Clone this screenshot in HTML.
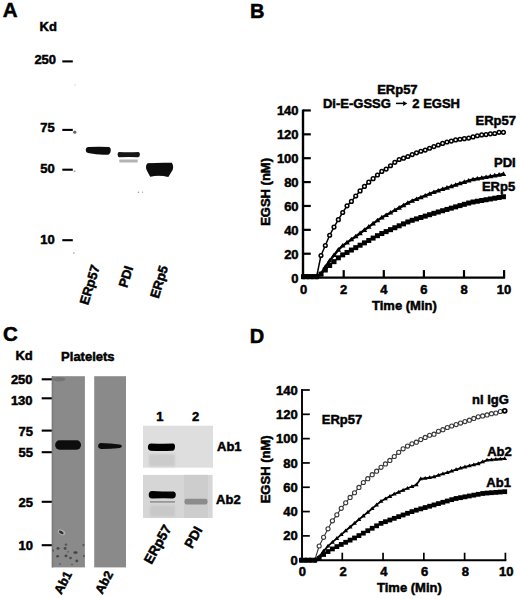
<!DOCTYPE html>
<html><head><meta charset="utf-8"><style>
html,body{margin:0;padding:0;background:#fff;width:520px;height:599px;overflow:hidden}
svg{display:block}
text{font-family:"Liberation Sans",sans-serif;font-weight:bold;fill:#000;stroke:#000;stroke-width:0.5px}
</style></head><body>
<svg width="520" height="599" viewBox="0 0 520 599">
<defs><filter id="blur1" x="-20%" y="-50%" width="140%" height="200%"><feGaussianBlur stdDeviation="0.45"/></filter><filter id="blur2" x="-20%" y="-50%" width="140%" height="200%"><feGaussianBlur stdDeviation="1.2"/></filter></defs>
<text x="2.75" y="17.0" font-size="20.5">A</text>
<text x="39.5" y="31.0" font-size="13">Kd</text>
<text x="34.4" y="64.3" font-size="13">250</text>
<text x="40.35" y="131.8" font-size="13">75</text>
<text x="40.25" y="172.7" font-size="13">50</text>
<text x="40.25" y="243.5" font-size="13">10</text>
<text x="88.05" y="305.4" font-size="13" transform="rotate(-73 88.05 305.4)">ERp57</text>
<text x="127.05" y="288.25" font-size="13" transform="rotate(-73 127.05 288.25)">PDI</text>
<text x="158.5" y="299.1" font-size="13" transform="rotate(-73 158.5 299.1)">ERp5</text>
<line x1="62.3" y1="61.4" x2="72.8" y2="61.4" stroke="#000" stroke-width="2.1"/>
<line x1="62.3" y1="129.9" x2="72.8" y2="129.9" stroke="#000" stroke-width="2.1"/>
<line x1="62.3" y1="169.7" x2="72.8" y2="169.7" stroke="#000" stroke-width="2.1"/>
<line x1="62.3" y1="240.2" x2="72.8" y2="240.2" stroke="#000" stroke-width="2.1"/>
<circle cx="74.8" cy="132.2" r="1.6" fill="#666"/>
<circle cx="74.6" cy="171.2" r="1.0" fill="#aaa"/>
<circle cx="73.8" cy="253" r="0.9" fill="#bbb"/>
<circle cx="138.5" cy="192.3" r="0.8" fill="#999"/>
<circle cx="142.5" cy="192.3" r="0.7" fill="#aaa"/>
<circle cx="75" cy="85" r="0.7" fill="#ccc"/>
<g filter="url(#blur1)">
<path d="M88,147.1 Q98,146.5 108.6,147 Q110.9,147.4 110.7,150.5 Q110.5,154.6 107.5,154.7 Q98,155.2 88,153 Q85.5,152.3 85.7,149.8 Q86,147.3 88,147.1 Z" fill="#0a0a0a"/>
<path d="M119,152 Q128.5,152.6 138.3,152 Q140,152.3 139.9,154.6 Q139.8,157.2 138,157.3 Q128.5,156.6 119.2,157.3 Q117.6,157.2 117.6,154.6 Q117.6,152.1 119,152 Z" fill="#141414"/>
<path d="M119.5,159.5 L137.5,159.5 Q138.3,161 137.5,162.6 L119.5,162.6 Q118.7,161 119.5,159.5 Z" fill="#b4b4b4"/>
<path d="M147.5,163.3 Q159,162.4 171.8,162.8 Q174,166.2 172.6,170 L168.3,176.9 Q159,174.6 150.2,176.7 L146.6,170 Q145,166 147.5,163.3 Z" fill="#080808"/>
</g>
<text x="250.0" y="17.75" font-size="20">B</text>
<line x1="303" y1="109.54000000000002" x2="303" y2="278.8" stroke="#000" stroke-width="2.4"/>
<line x1="301.8" y1="277.6" x2="505.1" y2="277.6" stroke="#000" stroke-width="2.4"/>
<line x1="303" y1="253.72000000000003" x2="310.8" y2="253.72000000000003" stroke="#000" stroke-width="2.2"/>
<line x1="303" y1="229.84000000000003" x2="310.8" y2="229.84000000000003" stroke="#000" stroke-width="2.2"/>
<line x1="303" y1="205.96000000000004" x2="310.8" y2="205.96000000000004" stroke="#000" stroke-width="2.2"/>
<line x1="303" y1="182.08000000000004" x2="310.8" y2="182.08000000000004" stroke="#000" stroke-width="2.2"/>
<line x1="303" y1="158.20000000000005" x2="310.8" y2="158.20000000000005" stroke="#000" stroke-width="2.2"/>
<line x1="303" y1="134.32000000000002" x2="310.8" y2="134.32000000000002" stroke="#000" stroke-width="2.2"/>
<line x1="303" y1="110.44000000000003" x2="310.8" y2="110.44000000000003" stroke="#000" stroke-width="2.2"/>
<line x1="343.70000000000005" y1="270.1" x2="343.70000000000005" y2="277.6" stroke="#000" stroke-width="2.2"/>
<line x1="383.8" y1="270.1" x2="383.8" y2="277.6" stroke="#000" stroke-width="2.2"/>
<line x1="423.90000000000003" y1="270.1" x2="423.90000000000003" y2="277.6" stroke="#000" stroke-width="2.2"/>
<line x1="464.0" y1="270.1" x2="464.0" y2="277.6" stroke="#000" stroke-width="2.2"/>
<line x1="504.1" y1="270.1" x2="504.1" y2="277.6" stroke="#000" stroke-width="2.2"/>
<text x="298.6" y="282.5" font-size="13" text-anchor="end" >0</text>
<text x="298.6" y="258.62" font-size="13" text-anchor="end" >20</text>
<text x="298.6" y="234.74000000000004" font-size="13" text-anchor="end" >40</text>
<text x="298.6" y="210.86000000000004" font-size="13" text-anchor="end" >60</text>
<text x="298.6" y="186.98000000000005" font-size="13" text-anchor="end" >80</text>
<text x="298.6" y="163.10000000000005" font-size="13" text-anchor="end" >100</text>
<text x="298.6" y="139.22000000000003" font-size="13" text-anchor="end" >120</text>
<text x="298.6" y="115.34000000000003" font-size="13" text-anchor="end" >140</text>
<text x="303.6" y="293.90000000000003" font-size="13" text-anchor="middle" >0</text>
<text x="343.70000000000005" y="293.90000000000003" font-size="13" text-anchor="middle" >2</text>
<text x="383.8" y="293.90000000000003" font-size="13" text-anchor="middle" >4</text>
<text x="423.90000000000003" y="293.90000000000003" font-size="13" text-anchor="middle" >6</text>
<text x="464.0" y="293.90000000000003" font-size="13" text-anchor="middle" >8</text>
<text x="504.1" y="293.90000000000003" font-size="13" text-anchor="middle" >10</text>
<path d="M303.60,276.64 L307.94,276.64 L312.29,276.64 L316.63,276.64 L320.98,255.52 L325.32,245.50 L329.67,235.24 L334.01,227.08 L338.35,219.70 L342.70,212.50 L347.04,205.84 L351.39,201.40 L355.73,196.00 L360.07,190.96 L364.42,186.40 L368.76,182.20 L373.11,178.72 L377.45,175.00 L381.80,171.40 L386.14,169.12 L390.48,165.76 L394.83,162.28 L399.17,159.52 L403.52,158.20 L407.86,156.52 L412.20,154.60 L416.55,152.80 L420.89,151.24 L425.24,150.04 L429.58,148.24 L433.93,146.56 L438.27,145.00 L442.61,143.44 L446.96,142.00 L451.30,141.10 L455.65,139.96 L459.99,139.24 L464.33,138.64 L468.68,138.04 L473.02,136.90 L477.37,135.76 L481.71,134.92 L486.06,134.56 L490.40,133.84 L494.74,133.48 L499.09,132.28 L503.43,132.28" fill="none" stroke="#000" stroke-width="1.5" stroke-linejoin="round"/>
<circle cx="303.60" cy="276.64" r="1.85" fill="#fff" stroke="#000" stroke-width="1.5"/>
<circle cx="307.94" cy="276.64" r="1.85" fill="#fff" stroke="#000" stroke-width="1.5"/>
<circle cx="312.29" cy="276.64" r="1.85" fill="#fff" stroke="#000" stroke-width="1.5"/>
<circle cx="316.63" cy="276.64" r="1.85" fill="#fff" stroke="#000" stroke-width="1.5"/>
<circle cx="320.98" cy="255.52" r="1.85" fill="#fff" stroke="#000" stroke-width="1.5"/>
<circle cx="325.32" cy="245.50" r="1.85" fill="#fff" stroke="#000" stroke-width="1.5"/>
<circle cx="329.67" cy="235.24" r="1.85" fill="#fff" stroke="#000" stroke-width="1.5"/>
<circle cx="334.01" cy="227.08" r="1.85" fill="#fff" stroke="#000" stroke-width="1.5"/>
<circle cx="338.35" cy="219.70" r="1.85" fill="#fff" stroke="#000" stroke-width="1.5"/>
<circle cx="342.70" cy="212.50" r="1.85" fill="#fff" stroke="#000" stroke-width="1.5"/>
<circle cx="347.04" cy="205.84" r="1.85" fill="#fff" stroke="#000" stroke-width="1.5"/>
<circle cx="351.39" cy="201.40" r="1.85" fill="#fff" stroke="#000" stroke-width="1.5"/>
<circle cx="355.73" cy="196.00" r="1.85" fill="#fff" stroke="#000" stroke-width="1.5"/>
<circle cx="360.07" cy="190.96" r="1.85" fill="#fff" stroke="#000" stroke-width="1.5"/>
<circle cx="364.42" cy="186.40" r="1.85" fill="#fff" stroke="#000" stroke-width="1.5"/>
<circle cx="368.76" cy="182.20" r="1.85" fill="#fff" stroke="#000" stroke-width="1.5"/>
<circle cx="373.11" cy="178.72" r="1.85" fill="#fff" stroke="#000" stroke-width="1.5"/>
<circle cx="377.45" cy="175.00" r="1.85" fill="#fff" stroke="#000" stroke-width="1.5"/>
<circle cx="381.80" cy="171.40" r="1.85" fill="#fff" stroke="#000" stroke-width="1.5"/>
<circle cx="386.14" cy="169.12" r="1.85" fill="#fff" stroke="#000" stroke-width="1.5"/>
<circle cx="390.48" cy="165.76" r="1.85" fill="#fff" stroke="#000" stroke-width="1.5"/>
<circle cx="394.83" cy="162.28" r="1.85" fill="#fff" stroke="#000" stroke-width="1.5"/>
<circle cx="399.17" cy="159.52" r="1.85" fill="#fff" stroke="#000" stroke-width="1.5"/>
<circle cx="403.52" cy="158.20" r="1.85" fill="#fff" stroke="#000" stroke-width="1.5"/>
<circle cx="407.86" cy="156.52" r="1.85" fill="#fff" stroke="#000" stroke-width="1.5"/>
<circle cx="412.20" cy="154.60" r="1.85" fill="#fff" stroke="#000" stroke-width="1.5"/>
<circle cx="416.55" cy="152.80" r="1.85" fill="#fff" stroke="#000" stroke-width="1.5"/>
<circle cx="420.89" cy="151.24" r="1.85" fill="#fff" stroke="#000" stroke-width="1.5"/>
<circle cx="425.24" cy="150.04" r="1.85" fill="#fff" stroke="#000" stroke-width="1.5"/>
<circle cx="429.58" cy="148.24" r="1.85" fill="#fff" stroke="#000" stroke-width="1.5"/>
<circle cx="433.93" cy="146.56" r="1.85" fill="#fff" stroke="#000" stroke-width="1.5"/>
<circle cx="438.27" cy="145.00" r="1.85" fill="#fff" stroke="#000" stroke-width="1.5"/>
<circle cx="442.61" cy="143.44" r="1.85" fill="#fff" stroke="#000" stroke-width="1.5"/>
<circle cx="446.96" cy="142.00" r="1.85" fill="#fff" stroke="#000" stroke-width="1.5"/>
<circle cx="451.30" cy="141.10" r="1.85" fill="#fff" stroke="#000" stroke-width="1.5"/>
<circle cx="455.65" cy="139.96" r="1.85" fill="#fff" stroke="#000" stroke-width="1.5"/>
<circle cx="459.99" cy="139.24" r="1.85" fill="#fff" stroke="#000" stroke-width="1.5"/>
<circle cx="464.33" cy="138.64" r="1.85" fill="#fff" stroke="#000" stroke-width="1.5"/>
<circle cx="468.68" cy="138.04" r="1.85" fill="#fff" stroke="#000" stroke-width="1.5"/>
<circle cx="473.02" cy="136.90" r="1.85" fill="#fff" stroke="#000" stroke-width="1.5"/>
<circle cx="477.37" cy="135.76" r="1.85" fill="#fff" stroke="#000" stroke-width="1.5"/>
<circle cx="481.71" cy="134.92" r="1.85" fill="#fff" stroke="#000" stroke-width="1.5"/>
<circle cx="486.06" cy="134.56" r="1.85" fill="#fff" stroke="#000" stroke-width="1.5"/>
<circle cx="490.40" cy="133.84" r="1.85" fill="#fff" stroke="#000" stroke-width="1.5"/>
<circle cx="494.74" cy="133.48" r="1.85" fill="#fff" stroke="#000" stroke-width="1.5"/>
<circle cx="499.09" cy="132.28" r="1.85" fill="#fff" stroke="#000" stroke-width="1.5"/>
<circle cx="503.43" cy="132.28" r="1.85" fill="#fff" stroke="#000" stroke-width="1.5"/>
<path d="M303.60,276.64 L307.94,276.64 L312.29,276.64 L316.63,276.64 L320.98,273.70 L325.32,266.91 L329.67,260.77 L334.01,255.28 L338.35,249.80 L342.70,245.74 L347.04,242.63 L351.39,239.52 L355.73,236.41 L360.07,233.31 L364.42,230.08 L368.76,226.85 L373.11,223.62 L377.45,220.39 L381.80,217.57 L386.14,215.14 L390.48,212.71 L394.83,210.28 L399.17,207.85 L403.52,205.42 L407.86,202.99 L412.20,200.91 L416.55,199.17 L420.89,197.44 L425.24,195.71 L429.58,193.97 L433.93,192.24 L438.27,190.67 L442.61,189.24 L446.96,187.80 L451.30,186.37 L455.65,184.94 L459.99,183.50 L464.33,182.07 L468.68,180.64 L473.02,179.48 L477.37,178.70 L481.71,177.92 L486.06,177.15 L490.40,176.37 L494.74,175.59 L499.09,174.82 L503.43,174.04" fill="none" stroke="#000" stroke-width="2.4" stroke-linejoin="round"/>
<path d="M300.80,278.48 L306.40,278.48 L303.60,273.88 Z" fill="#000"/>
<path d="M305.14,278.48 L310.74,278.48 L307.94,273.88 Z" fill="#000"/>
<path d="M309.49,278.48 L315.09,278.48 L312.29,273.88 Z" fill="#000"/>
<path d="M313.83,278.48 L319.43,278.48 L316.63,273.88 Z" fill="#000"/>
<path d="M318.18,275.54 L323.78,275.54 L320.98,270.94 Z" fill="#000"/>
<path d="M322.52,268.75 L328.12,268.75 L325.32,264.15 Z" fill="#000"/>
<path d="M326.87,262.61 L332.47,262.61 L329.67,258.01 Z" fill="#000"/>
<path d="M331.21,257.12 L336.81,257.12 L334.01,252.52 Z" fill="#000"/>
<path d="M335.55,251.64 L341.15,251.64 L338.35,247.04 Z" fill="#000"/>
<path d="M339.90,247.58 L345.50,247.58 L342.70,242.98 Z" fill="#000"/>
<path d="M344.24,244.47 L349.84,244.47 L347.04,239.87 Z" fill="#000"/>
<path d="M348.59,241.36 L354.19,241.36 L351.39,236.76 Z" fill="#000"/>
<path d="M352.93,238.25 L358.53,238.25 L355.73,233.65 Z" fill="#000"/>
<path d="M357.27,235.15 L362.87,235.15 L360.07,230.55 Z" fill="#000"/>
<path d="M361.62,231.92 L367.22,231.92 L364.42,227.32 Z" fill="#000"/>
<path d="M365.96,228.69 L371.56,228.69 L368.76,224.09 Z" fill="#000"/>
<path d="M370.31,225.46 L375.91,225.46 L373.11,220.86 Z" fill="#000"/>
<path d="M374.65,222.23 L380.25,222.23 L377.45,217.63 Z" fill="#000"/>
<path d="M379.00,219.41 L384.60,219.41 L381.80,214.81 Z" fill="#000"/>
<path d="M383.34,216.98 L388.94,216.98 L386.14,212.38 Z" fill="#000"/>
<path d="M387.68,214.55 L393.28,214.55 L390.48,209.95 Z" fill="#000"/>
<path d="M392.03,212.12 L397.63,212.12 L394.83,207.52 Z" fill="#000"/>
<path d="M396.37,209.69 L401.97,209.69 L399.17,205.09 Z" fill="#000"/>
<path d="M400.72,207.26 L406.32,207.26 L403.52,202.66 Z" fill="#000"/>
<path d="M405.06,204.83 L410.66,204.83 L407.86,200.23 Z" fill="#000"/>
<path d="M409.40,202.75 L415.00,202.75 L412.20,198.15 Z" fill="#000"/>
<path d="M413.75,201.01 L419.35,201.01 L416.55,196.41 Z" fill="#000"/>
<path d="M418.09,199.28 L423.69,199.28 L420.89,194.68 Z" fill="#000"/>
<path d="M422.44,197.55 L428.04,197.55 L425.24,192.95 Z" fill="#000"/>
<path d="M426.78,195.81 L432.38,195.81 L429.58,191.21 Z" fill="#000"/>
<path d="M431.13,194.08 L436.73,194.08 L433.93,189.48 Z" fill="#000"/>
<path d="M435.47,192.51 L441.07,192.51 L438.27,187.91 Z" fill="#000"/>
<path d="M439.81,191.08 L445.41,191.08 L442.61,186.48 Z" fill="#000"/>
<path d="M444.16,189.64 L449.76,189.64 L446.96,185.04 Z" fill="#000"/>
<path d="M448.50,188.21 L454.10,188.21 L451.30,183.61 Z" fill="#000"/>
<path d="M452.85,186.78 L458.45,186.78 L455.65,182.18 Z" fill="#000"/>
<path d="M457.19,185.34 L462.79,185.34 L459.99,180.74 Z" fill="#000"/>
<path d="M461.53,183.91 L467.13,183.91 L464.33,179.31 Z" fill="#000"/>
<path d="M465.88,182.48 L471.48,182.48 L468.68,177.88 Z" fill="#000"/>
<path d="M470.22,181.32 L475.82,181.32 L473.02,176.72 Z" fill="#000"/>
<path d="M474.57,180.54 L480.17,180.54 L477.37,175.94 Z" fill="#000"/>
<path d="M478.91,179.76 L484.51,179.76 L481.71,175.16 Z" fill="#000"/>
<path d="M483.26,178.99 L488.86,178.99 L486.06,174.39 Z" fill="#000"/>
<path d="M487.60,178.21 L493.20,178.21 L490.40,173.61 Z" fill="#000"/>
<path d="M491.94,177.43 L497.54,177.43 L494.74,172.83 Z" fill="#000"/>
<path d="M496.29,176.66 L501.89,176.66 L499.09,172.06 Z" fill="#000"/>
<path d="M500.63,175.88 L506.23,175.88 L503.43,171.28 Z" fill="#000"/>
<path d="M303.60,276.64 L307.94,276.64 L312.29,276.64 L316.63,276.64 L320.98,274.14 L325.32,270.02 L329.67,265.46 L334.01,261.64 L338.35,257.83 L342.70,254.86 L347.04,252.45 L351.39,250.05 L355.73,247.64 L360.07,245.24 L364.42,242.85 L368.76,240.47 L373.11,238.08 L377.45,235.69 L381.80,233.54 L386.14,231.61 L390.48,229.67 L394.83,227.74 L399.17,225.81 L403.52,223.87 L407.86,221.94 L412.20,220.28 L416.55,218.88 L420.89,217.49 L425.24,216.10 L429.58,214.71 L433.93,213.32 L438.27,211.99 L442.61,210.71 L446.96,209.44 L451.30,208.16 L455.65,206.88 L459.99,205.60 L464.33,204.32 L468.68,203.05 L473.02,201.99 L477.37,201.23 L481.71,200.48 L486.06,199.73 L490.40,198.97 L494.74,198.22 L499.09,197.47 L503.43,196.72" fill="none" stroke="#000" stroke-width="1.2" stroke-linejoin="round"/>
<rect x="301.10" y="274.14" width="5.00" height="5.00" fill="#000"/>
<rect x="305.44" y="274.14" width="5.00" height="5.00" fill="#000"/>
<rect x="309.79" y="274.14" width="5.00" height="5.00" fill="#000"/>
<rect x="314.13" y="274.14" width="5.00" height="5.00" fill="#000"/>
<rect x="318.48" y="271.64" width="5.00" height="5.00" fill="#000"/>
<rect x="322.82" y="267.52" width="5.00" height="5.00" fill="#000"/>
<rect x="327.17" y="262.96" width="5.00" height="5.00" fill="#000"/>
<rect x="331.51" y="259.14" width="5.00" height="5.00" fill="#000"/>
<rect x="335.85" y="255.33" width="5.00" height="5.00" fill="#000"/>
<rect x="340.20" y="252.36" width="5.00" height="5.00" fill="#000"/>
<rect x="344.54" y="249.95" width="5.00" height="5.00" fill="#000"/>
<rect x="348.89" y="247.55" width="5.00" height="5.00" fill="#000"/>
<rect x="353.23" y="245.14" width="5.00" height="5.00" fill="#000"/>
<rect x="357.57" y="242.74" width="5.00" height="5.00" fill="#000"/>
<rect x="361.92" y="240.35" width="5.00" height="5.00" fill="#000"/>
<rect x="366.26" y="237.97" width="5.00" height="5.00" fill="#000"/>
<rect x="370.61" y="235.58" width="5.00" height="5.00" fill="#000"/>
<rect x="374.95" y="233.19" width="5.00" height="5.00" fill="#000"/>
<rect x="379.30" y="231.04" width="5.00" height="5.00" fill="#000"/>
<rect x="383.64" y="229.11" width="5.00" height="5.00" fill="#000"/>
<rect x="387.98" y="227.17" width="5.00" height="5.00" fill="#000"/>
<rect x="392.33" y="225.24" width="5.00" height="5.00" fill="#000"/>
<rect x="396.67" y="223.31" width="5.00" height="5.00" fill="#000"/>
<rect x="401.02" y="221.37" width="5.00" height="5.00" fill="#000"/>
<rect x="405.36" y="219.44" width="5.00" height="5.00" fill="#000"/>
<rect x="409.70" y="217.78" width="5.00" height="5.00" fill="#000"/>
<rect x="414.05" y="216.38" width="5.00" height="5.00" fill="#000"/>
<rect x="418.39" y="214.99" width="5.00" height="5.00" fill="#000"/>
<rect x="422.74" y="213.60" width="5.00" height="5.00" fill="#000"/>
<rect x="427.08" y="212.21" width="5.00" height="5.00" fill="#000"/>
<rect x="431.43" y="210.82" width="5.00" height="5.00" fill="#000"/>
<rect x="435.77" y="209.49" width="5.00" height="5.00" fill="#000"/>
<rect x="440.11" y="208.21" width="5.00" height="5.00" fill="#000"/>
<rect x="444.46" y="206.94" width="5.00" height="5.00" fill="#000"/>
<rect x="448.80" y="205.66" width="5.00" height="5.00" fill="#000"/>
<rect x="453.15" y="204.38" width="5.00" height="5.00" fill="#000"/>
<rect x="457.49" y="203.10" width="5.00" height="5.00" fill="#000"/>
<rect x="461.83" y="201.82" width="5.00" height="5.00" fill="#000"/>
<rect x="466.18" y="200.55" width="5.00" height="5.00" fill="#000"/>
<rect x="470.52" y="199.49" width="5.00" height="5.00" fill="#000"/>
<rect x="474.87" y="198.73" width="5.00" height="5.00" fill="#000"/>
<rect x="479.21" y="197.98" width="5.00" height="5.00" fill="#000"/>
<rect x="483.56" y="197.23" width="5.00" height="5.00" fill="#000"/>
<rect x="487.90" y="196.47" width="5.00" height="5.00" fill="#000"/>
<rect x="492.24" y="195.72" width="5.00" height="5.00" fill="#000"/>
<rect x="496.59" y="194.97" width="5.00" height="5.00" fill="#000"/>
<rect x="500.93" y="194.22" width="5.00" height="5.00" fill="#000"/>
<text x="377.15" y="94.0" font-size="13">ERp57</text>
<text x="322.95" y="107.8" font-size="13">Di-E-GSSG</text>
<text x="412.3" y="107.8" font-size="13">2 EGSH</text>
<text x="372.05" y="309.8" font-size="13">Time (Min)</text>
<text x="269.75" y="225.85" font-size="13" transform="rotate(-90 269.75 225.85)">EGSH (nM)</text>
<text x="475.5" y="125.0" font-size="13">ERp57</text>
<text x="494.0" y="167.0" font-size="13">PDI</text>
<text x="481.95" y="191.2" font-size="13">ERp5</text>
<path d="M396,103.4 L405,103.4" stroke="#000" stroke-width="1.5"/><path d="M403.2,100.9 L407.3,103.4 L403.2,105.9 Z" fill="#000"/>
<text x="3.12" y="341.0" font-size="20.5">C</text>
<text x="15.38" y="360.25" font-size="13">Kd</text>
<text x="61.12" y="361.0" font-size="13">Platelets</text>
<text x="10.88" y="383.5" font-size="13">250</text>
<text x="10.88" y="404.5" font-size="13">130</text>
<text x="18.62" y="436.0" font-size="13">75</text>
<text x="18.62" y="456.5" font-size="13">55</text>
<text x="18.62" y="506.5" font-size="13">25</text>
<text x="18.62" y="550.0" font-size="13">10</text>
<text x="61.3" y="594.95" font-size="12.5" transform="rotate(-62 61.3 594.95)">Ab1</text>
<text x="102.35" y="594.65" font-size="12.5" transform="rotate(-62 102.35 594.65)">Ab2</text>
<text x="156.3" y="421.2" font-size="13">1</text>
<text x="192.0" y="421.2" font-size="13">2</text>
<text x="217.0" y="450.5" font-size="13">Ab1</text>
<text x="216.12" y="504.0" font-size="13">Ab2</text>
<text x="151.45" y="564.9" font-size="13.5" transform="rotate(-61 151.45 564.9)">ERp57</text>
<text x="192.0" y="549.35" font-size="13.5" transform="rotate(-61 192.0 549.35)">PDI</text>
<line x1="41.7" y1="379.3" x2="52" y2="379.3" stroke="#000" stroke-width="2.1"/>
<line x1="41.7" y1="398.3" x2="52" y2="398.3" stroke="#000" stroke-width="2.1"/>
<line x1="41.7" y1="430.6" x2="52" y2="430.6" stroke="#000" stroke-width="2.1"/>
<line x1="41.7" y1="452.2" x2="52" y2="452.2" stroke="#000" stroke-width="2.1"/>
<line x1="41.7" y1="501.8" x2="52" y2="501.8" stroke="#000" stroke-width="2.1"/>
<line x1="41.7" y1="545.2" x2="52" y2="545.2" stroke="#000" stroke-width="2.1"/>
<rect x="51.8" y="376.2" width="33.1" height="191.2" fill="#8a8a8a" />
<rect x="94.2" y="376.2" width="31.8" height="191.2" fill="#8a8a8a" />
<rect x="51.8" y="376.2" width="1.5" height="191.2" fill="#7a7a7a" />
<ellipse cx="59" cy="379.2" rx="6.5" ry="2.2" fill="#747474"/>
<g filter="url(#blur1)">
<ellipse cx="61.6" cy="532.3" rx="4" ry="2.4" fill="#b0b0b0" transform="rotate(30 61.6 532.3)"/><ellipse cx="61.2" cy="532.4" rx="2.6" ry="1.3" fill="#2e2e2e" transform="rotate(30 61.2 532.4)"/>
<rect x="55.1" y="440.3" width="26" height="9.4" rx="4.6" fill="#0a0a0a"/>
<path d="M101,443.1 Q110,443.4 119.8,444.6 Q121.9,444.9 121.9,446.2 Q121.9,447.6 119.8,447.9 Q110,449 101,448.9 Q98.1,448.6 98.1,446 Q98.1,443.4 101,443.1 Z" fill="#0e0e0e"/>
<ellipse cx="58" cy="548.4" rx="1.6" ry="1.4" fill="#484848"/>
<ellipse cx="65.1" cy="548.4" rx="1.5" ry="1.4" fill="#484848"/>
<ellipse cx="66" cy="544.6" rx="1.3" ry="1.2" fill="#555"/>
<ellipse cx="75.5" cy="552.6" rx="2.2" ry="1.4" fill="#444"/>
<ellipse cx="57.6" cy="556.3" rx="1.5" ry="1.3" fill="#4a4a4a"/>
<ellipse cx="66" cy="555.9" rx="1.5" ry="1.3" fill="#4a4a4a"/>
<ellipse cx="70.5" cy="558" rx="1.4" ry="1.2" fill="#505050"/>
<ellipse cx="76.8" cy="560.9" rx="1.5" ry="1.3" fill="#4a4a4a"/>
<ellipse cx="83.5" cy="545" rx="1" ry="1.3" fill="#555"/>
<ellipse cx="53" cy="550.5" rx="1" ry="1.2" fill="#5a5a5a"/>
<ellipse cx="83.9" cy="556" rx="1" ry="1.2" fill="#5a5a5a"/>
<ellipse cx="68" cy="551.7" rx="1.2" ry="1" fill="#6a6a6a"/>
<ellipse cx="60" cy="564" rx="1.2" ry="1" fill="#666"/>
<ellipse cx="72" cy="564.5" rx="1.2" ry="1" fill="#666"/>
</g>
<rect x="143" y="425.7" width="70" height="42" fill="#dedede" />
<rect x="143" y="474.9" width="69.6" height="43.1" fill="#d6d6d6" />
<rect x="184" y="474.9" width="24" height="43.1" fill="#cdcdcd" />
<g filter="url(#blur1)">
<path d="M151,443.5 Q161,443.8 173,443.6 Q175.2,443.8 175,447 Q174.8,450.6 172.5,450.8 Q161,451.3 150.5,450.8 Q147.8,450.2 147.9,447 Q148,443.6 151,443.5 Z" fill="#000"/>
<rect x="149" y="454" width="26" height="12.5" fill="#cbcbcb" filter="url(#blur2)"/>
<path d="M152,491 Q162,491.6 173.5,491.6 Q176,492.2 175.8,495 Q175.6,498.2 173,498.4 Q162,497.8 152,498.6 Q148.6,498.3 148.7,494.8 Q148.8,491.2 152,491 Z" fill="#000"/>
<rect x="150" y="501" width="25" height="1.8" fill="#999"/>
<rect x="150" y="505.5" width="25" height="11" fill="#c8c8c8" filter="url(#blur2)"/>
<rect x="184.5" y="498.8" width="23" height="5.6" rx="2" fill="#8c8c8c"/>
</g>
<text x="249.75" y="343.4" font-size="20">D</text>
<line x1="302" y1="389.1020000000001" x2="302" y2="561.1500000000001" stroke="#000" stroke-width="1.9"/>
<line x1="301.05" y1="560.2" x2="506.4" y2="560.2" stroke="#000" stroke-width="1.9"/>
<line x1="302" y1="535.8860000000001" x2="309.8" y2="535.8860000000001" stroke="#000" stroke-width="1.7"/>
<line x1="302" y1="511.57200000000006" x2="309.8" y2="511.57200000000006" stroke="#000" stroke-width="1.7"/>
<line x1="302" y1="487.25800000000004" x2="309.8" y2="487.25800000000004" stroke="#000" stroke-width="1.7"/>
<line x1="302" y1="462.9440000000001" x2="309.8" y2="462.9440000000001" stroke="#000" stroke-width="1.7"/>
<line x1="302" y1="438.63000000000005" x2="309.8" y2="438.63000000000005" stroke="#000" stroke-width="1.7"/>
<line x1="302" y1="414.31600000000003" x2="309.8" y2="414.31600000000003" stroke="#000" stroke-width="1.7"/>
<line x1="302" y1="390.00200000000007" x2="309.8" y2="390.00200000000007" stroke="#000" stroke-width="1.7"/>
<line x1="342.28" y1="552.7" x2="342.28" y2="560.2" stroke="#000" stroke-width="1.7"/>
<line x1="383.06" y1="552.7" x2="383.06" y2="560.2" stroke="#000" stroke-width="1.7"/>
<line x1="423.84000000000003" y1="552.7" x2="423.84000000000003" y2="560.2" stroke="#000" stroke-width="1.7"/>
<line x1="464.62" y1="552.7" x2="464.62" y2="560.2" stroke="#000" stroke-width="1.7"/>
<line x1="505.4" y1="552.7" x2="505.4" y2="560.2" stroke="#000" stroke-width="1.7"/>
<text x="297.8" y="564.8000000000001" font-size="13" text-anchor="end" >0</text>
<text x="297.8" y="540.4860000000001" font-size="13" text-anchor="end" >20</text>
<text x="297.8" y="516.172" font-size="13" text-anchor="end" >40</text>
<text x="297.8" y="491.85800000000006" font-size="13" text-anchor="end" >60</text>
<text x="297.8" y="467.5440000000001" font-size="13" text-anchor="end" >80</text>
<text x="297.8" y="443.2300000000001" font-size="13" text-anchor="end" >100</text>
<text x="297.8" y="418.91600000000005" font-size="13" text-anchor="end" >120</text>
<text x="297.8" y="394.6020000000001" font-size="13" text-anchor="end" >140</text>
<text x="302.3" y="575.5" font-size="13" text-anchor="middle" >0</text>
<text x="343.08" y="575.5" font-size="13" text-anchor="middle" >2</text>
<text x="383.86" y="575.5" font-size="13" text-anchor="middle" >4</text>
<text x="424.64000000000004" y="575.5" font-size="13" text-anchor="middle" >6</text>
<text x="465.42" y="575.5" font-size="13" text-anchor="middle" >8</text>
<text x="506.2" y="575.5" font-size="13" text-anchor="middle" >10</text>
<path d="M301.50,560.20 L305.92,560.20 L310.34,560.20 L314.75,560.20 L319.17,545.98 L323.59,537.34 L328.01,528.83 L332.42,520.81 L336.84,514.85 L341.26,508.29 L345.68,502.82 L350.10,497.47 L354.51,492.73 L358.93,487.38 L363.35,482.52 L367.77,478.63 L372.19,474.68 L376.60,471.21 L381.02,467.32 L385.44,463.92 L389.86,460.39 L394.27,456.50 L398.69,452.37 L403.11,448.84 L407.53,446.05 L411.95,443.86 L416.36,442.16 L420.78,439.60 L425.20,437.41 L429.62,435.23 L434.03,434.13 L438.45,431.34 L442.87,429.69 L447.29,427.51 L451.71,425.99 L456.12,424.53 L460.54,423.07 L464.96,421.61 L469.38,420.15 L473.80,418.45 L478.21,416.87 L482.63,415.90 L487.05,414.92 L491.47,413.71 L495.88,412.98 L500.30,411.52 L504.72,410.79" fill="none" stroke="#333" stroke-width="1.1" stroke-linejoin="round"/>
<circle cx="301.50" cy="560.20" r="2.05" fill="#fff" stroke="#383838" stroke-width="1.1"/>
<circle cx="305.92" cy="560.20" r="2.05" fill="#fff" stroke="#383838" stroke-width="1.1"/>
<circle cx="310.34" cy="560.20" r="2.05" fill="#fff" stroke="#383838" stroke-width="1.1"/>
<circle cx="314.75" cy="560.20" r="2.05" fill="#fff" stroke="#383838" stroke-width="1.1"/>
<circle cx="319.17" cy="545.98" r="2.05" fill="#fff" stroke="#383838" stroke-width="1.1"/>
<circle cx="323.59" cy="537.34" r="2.05" fill="#fff" stroke="#383838" stroke-width="1.1"/>
<circle cx="328.01" cy="528.83" r="2.05" fill="#fff" stroke="#383838" stroke-width="1.1"/>
<circle cx="332.42" cy="520.81" r="2.05" fill="#fff" stroke="#383838" stroke-width="1.1"/>
<circle cx="336.84" cy="514.85" r="2.05" fill="#fff" stroke="#383838" stroke-width="1.1"/>
<circle cx="341.26" cy="508.29" r="2.05" fill="#fff" stroke="#383838" stroke-width="1.1"/>
<circle cx="345.68" cy="502.82" r="2.05" fill="#fff" stroke="#383838" stroke-width="1.1"/>
<circle cx="350.10" cy="497.47" r="2.05" fill="#fff" stroke="#383838" stroke-width="1.1"/>
<circle cx="354.51" cy="492.73" r="2.05" fill="#fff" stroke="#383838" stroke-width="1.1"/>
<circle cx="358.93" cy="487.38" r="2.05" fill="#fff" stroke="#383838" stroke-width="1.1"/>
<circle cx="363.35" cy="482.52" r="2.05" fill="#fff" stroke="#383838" stroke-width="1.1"/>
<circle cx="367.77" cy="478.63" r="2.05" fill="#fff" stroke="#383838" stroke-width="1.1"/>
<circle cx="372.19" cy="474.68" r="2.05" fill="#fff" stroke="#383838" stroke-width="1.1"/>
<circle cx="376.60" cy="471.21" r="2.05" fill="#fff" stroke="#383838" stroke-width="1.1"/>
<circle cx="381.02" cy="467.32" r="2.05" fill="#fff" stroke="#383838" stroke-width="1.1"/>
<circle cx="385.44" cy="463.92" r="2.05" fill="#fff" stroke="#383838" stroke-width="1.1"/>
<circle cx="389.86" cy="460.39" r="2.05" fill="#fff" stroke="#383838" stroke-width="1.1"/>
<circle cx="394.27" cy="456.50" r="2.05" fill="#fff" stroke="#383838" stroke-width="1.1"/>
<circle cx="398.69" cy="452.37" r="2.05" fill="#fff" stroke="#383838" stroke-width="1.1"/>
<circle cx="403.11" cy="448.84" r="2.05" fill="#fff" stroke="#383838" stroke-width="1.1"/>
<circle cx="407.53" cy="446.05" r="2.05" fill="#fff" stroke="#383838" stroke-width="1.1"/>
<circle cx="411.95" cy="443.86" r="2.05" fill="#fff" stroke="#383838" stroke-width="1.1"/>
<circle cx="416.36" cy="442.16" r="2.05" fill="#fff" stroke="#383838" stroke-width="1.1"/>
<circle cx="420.78" cy="439.60" r="2.05" fill="#fff" stroke="#383838" stroke-width="1.1"/>
<circle cx="425.20" cy="437.41" r="2.05" fill="#fff" stroke="#383838" stroke-width="1.1"/>
<circle cx="429.62" cy="435.23" r="2.05" fill="#fff" stroke="#383838" stroke-width="1.1"/>
<circle cx="434.03" cy="434.13" r="2.05" fill="#fff" stroke="#383838" stroke-width="1.1"/>
<circle cx="438.45" cy="431.34" r="2.05" fill="#fff" stroke="#383838" stroke-width="1.1"/>
<circle cx="442.87" cy="429.69" r="2.05" fill="#fff" stroke="#383838" stroke-width="1.1"/>
<circle cx="447.29" cy="427.51" r="2.05" fill="#fff" stroke="#383838" stroke-width="1.1"/>
<circle cx="451.71" cy="425.99" r="2.05" fill="#fff" stroke="#383838" stroke-width="1.1"/>
<circle cx="456.12" cy="424.53" r="2.05" fill="#fff" stroke="#383838" stroke-width="1.1"/>
<circle cx="460.54" cy="423.07" r="2.05" fill="#fff" stroke="#383838" stroke-width="1.1"/>
<circle cx="464.96" cy="421.61" r="2.05" fill="#fff" stroke="#383838" stroke-width="1.1"/>
<circle cx="469.38" cy="420.15" r="2.05" fill="#fff" stroke="#383838" stroke-width="1.1"/>
<circle cx="473.80" cy="418.45" r="2.05" fill="#fff" stroke="#383838" stroke-width="1.1"/>
<circle cx="478.21" cy="416.87" r="2.05" fill="#fff" stroke="#383838" stroke-width="1.1"/>
<circle cx="482.63" cy="415.90" r="2.05" fill="#fff" stroke="#383838" stroke-width="1.1"/>
<circle cx="487.05" cy="414.92" r="2.05" fill="#fff" stroke="#383838" stroke-width="1.1"/>
<circle cx="491.47" cy="413.71" r="2.05" fill="#fff" stroke="#383838" stroke-width="1.1"/>
<circle cx="495.88" cy="412.98" r="2.05" fill="#fff" stroke="#383838" stroke-width="1.1"/>
<circle cx="500.30" cy="411.52" r="2.05" fill="#fff" stroke="#383838" stroke-width="1.1"/>
<circle cx="504.72" cy="410.79" r="2.0" fill="#fff" stroke="#000" stroke-width="1.7"/>
<path d="M301.50,560.20 L305.92,560.20 L310.34,560.20 L314.75,560.20 L319.17,556.56 L323.59,551.07 L328.01,546.07 L332.42,542.17 L336.84,538.38 L341.26,534.59 L345.68,530.80 L350.10,527.00 L354.51,523.21 L358.93,519.53 L363.35,515.87 L367.77,512.21 L372.19,508.56 L376.60,504.90 L381.02,501.24 L385.44,498.82 L389.86,496.40 L394.27,494.07 L398.69,492.11 L403.11,490.16 L407.53,488.23 L411.95,486.51 L416.36,484.79 L420.78,478.81 L425.20,478.17 L429.62,477.53 L434.03,476.85 L438.45,475.18 L442.87,473.78 L447.29,472.53 L451.71,471.08 L456.12,469.56 L460.54,468.04 L464.96,466.86 L469.38,465.79 L473.80,464.72 L478.21,463.64 L482.63,461.80 L487.05,460.08 L491.47,459.71 L495.88,459.33 L500.30,458.96 L504.72,458.59" fill="none" stroke="#000" stroke-width="1.8" stroke-linejoin="round"/>
<path d="M299.10,561.72 L303.90,561.72 L301.50,557.92 Z" fill="#000"/>
<path d="M303.52,561.72 L308.32,561.72 L305.92,557.92 Z" fill="#000"/>
<path d="M307.94,561.72 L312.74,561.72 L310.34,557.92 Z" fill="#000"/>
<path d="M312.35,561.72 L317.15,561.72 L314.75,557.92 Z" fill="#000"/>
<path d="M316.77,558.08 L321.57,558.08 L319.17,554.28 Z" fill="#000"/>
<path d="M321.19,552.59 L325.99,552.59 L323.59,548.79 Z" fill="#000"/>
<path d="M325.61,547.59 L330.41,547.59 L328.01,543.79 Z" fill="#000"/>
<path d="M330.02,543.69 L334.82,543.69 L332.42,539.89 Z" fill="#000"/>
<path d="M334.44,539.90 L339.24,539.90 L336.84,536.10 Z" fill="#000"/>
<path d="M338.86,536.11 L343.66,536.11 L341.26,532.31 Z" fill="#000"/>
<path d="M343.28,532.32 L348.08,532.32 L345.68,528.52 Z" fill="#000"/>
<path d="M347.70,528.52 L352.50,528.52 L350.10,524.72 Z" fill="#000"/>
<path d="M352.11,524.73 L356.91,524.73 L354.51,520.93 Z" fill="#000"/>
<path d="M356.53,521.05 L361.33,521.05 L358.93,517.25 Z" fill="#000"/>
<path d="M360.95,517.39 L365.75,517.39 L363.35,513.59 Z" fill="#000"/>
<path d="M365.37,513.73 L370.17,513.73 L367.77,509.93 Z" fill="#000"/>
<path d="M369.79,510.08 L374.59,510.08 L372.19,506.28 Z" fill="#000"/>
<path d="M374.20,506.42 L379.00,506.42 L376.60,502.62 Z" fill="#000"/>
<path d="M378.62,502.76 L383.42,502.76 L381.02,498.96 Z" fill="#000"/>
<path d="M383.04,500.34 L387.84,500.34 L385.44,496.54 Z" fill="#000"/>
<path d="M387.46,497.92 L392.26,497.92 L389.86,494.12 Z" fill="#000"/>
<path d="M391.87,495.59 L396.67,495.59 L394.27,491.79 Z" fill="#000"/>
<path d="M396.29,493.63 L401.09,493.63 L398.69,489.83 Z" fill="#000"/>
<path d="M400.71,491.68 L405.51,491.68 L403.11,487.88 Z" fill="#000"/>
<path d="M405.13,489.75 L409.93,489.75 L407.53,485.95 Z" fill="#000"/>
<path d="M409.55,488.03 L414.35,488.03 L411.95,484.23 Z" fill="#000"/>
<path d="M413.96,486.31 L418.76,486.31 L416.36,482.51 Z" fill="#000"/>
<path d="M418.38,480.33 L423.18,480.33 L420.78,476.53 Z" fill="#000"/>
<path d="M422.80,479.69 L427.60,479.69 L425.20,475.89 Z" fill="#000"/>
<path d="M427.22,479.05 L432.02,479.05 L429.62,475.25 Z" fill="#000"/>
<path d="M431.63,478.37 L436.43,478.37 L434.03,474.57 Z" fill="#000"/>
<path d="M436.05,476.70 L440.85,476.70 L438.45,472.90 Z" fill="#000"/>
<path d="M440.47,475.30 L445.27,475.30 L442.87,471.50 Z" fill="#000"/>
<path d="M444.89,474.05 L449.69,474.05 L447.29,470.25 Z" fill="#000"/>
<path d="M449.31,472.60 L454.11,472.60 L451.71,468.80 Z" fill="#000"/>
<path d="M453.72,471.08 L458.52,471.08 L456.12,467.28 Z" fill="#000"/>
<path d="M458.14,469.56 L462.94,469.56 L460.54,465.76 Z" fill="#000"/>
<path d="M462.56,468.38 L467.36,468.38 L464.96,464.58 Z" fill="#000"/>
<path d="M466.98,467.31 L471.78,467.31 L469.38,463.51 Z" fill="#000"/>
<path d="M471.40,466.24 L476.20,466.24 L473.80,462.44 Z" fill="#000"/>
<path d="M475.81,465.16 L480.61,465.16 L478.21,461.36 Z" fill="#000"/>
<path d="M480.23,463.32 L485.03,463.32 L482.63,459.52 Z" fill="#000"/>
<path d="M484.65,461.60 L489.45,461.60 L487.05,457.80 Z" fill="#000"/>
<path d="M489.07,461.23 L493.87,461.23 L491.47,457.43 Z" fill="#000"/>
<path d="M493.48,460.85 L498.28,460.85 L495.88,457.05 Z" fill="#000"/>
<path d="M497.90,460.48 L502.70,460.48 L500.30,456.68 Z" fill="#000"/>
<path d="M502.32,460.11 L507.12,460.11 L504.72,456.31 Z" fill="#000"/>
<path d="M301.50,560.20 L305.92,560.20 L310.34,560.20 L314.75,560.20 L319.17,558.38 L323.59,554.48 L328.01,551.57 L332.42,548.93 L336.84,546.60 L341.26,544.44 L345.68,542.29 L350.10,540.14 L354.51,537.99 L358.93,535.59 L363.35,533.15 L367.77,530.70 L372.19,528.26 L376.60,525.81 L381.02,523.36 L385.44,521.69 L389.86,520.01 L394.27,518.33 L398.69,516.65 L403.11,514.97 L407.53,513.29 L411.95,511.61 L416.36,510.16 L420.78,508.85 L425.20,507.54 L429.62,506.23 L434.03,504.92 L438.45,503.61 L442.87,502.30 L447.29,500.99 L451.71,499.65 L456.12,498.49 L460.54,497.65 L464.96,496.82 L469.38,495.98 L473.80,495.15 L478.21,494.31 L482.63,493.48 L487.05,493.05 L491.47,492.71 L495.88,492.37 L500.30,492.03 L504.72,491.69" fill="none" stroke="#000" stroke-width="1.2" stroke-linejoin="round"/>
<rect x="299.10" y="557.80" width="4.80" height="4.80" fill="#000"/>
<rect x="303.52" y="557.80" width="4.80" height="4.80" fill="#000"/>
<rect x="307.94" y="557.80" width="4.80" height="4.80" fill="#000"/>
<rect x="312.35" y="557.80" width="4.80" height="4.80" fill="#000"/>
<rect x="316.77" y="555.98" width="4.80" height="4.80" fill="#000"/>
<rect x="321.19" y="552.08" width="4.80" height="4.80" fill="#000"/>
<rect x="325.61" y="549.17" width="4.80" height="4.80" fill="#000"/>
<rect x="330.02" y="546.53" width="4.80" height="4.80" fill="#000"/>
<rect x="334.44" y="544.20" width="4.80" height="4.80" fill="#000"/>
<rect x="338.86" y="542.04" width="4.80" height="4.80" fill="#000"/>
<rect x="343.28" y="539.89" width="4.80" height="4.80" fill="#000"/>
<rect x="347.70" y="537.74" width="4.80" height="4.80" fill="#000"/>
<rect x="352.11" y="535.59" width="4.80" height="4.80" fill="#000"/>
<rect x="356.53" y="533.19" width="4.80" height="4.80" fill="#000"/>
<rect x="360.95" y="530.75" width="4.80" height="4.80" fill="#000"/>
<rect x="365.37" y="528.30" width="4.80" height="4.80" fill="#000"/>
<rect x="369.79" y="525.86" width="4.80" height="4.80" fill="#000"/>
<rect x="374.20" y="523.41" width="4.80" height="4.80" fill="#000"/>
<rect x="378.62" y="520.96" width="4.80" height="4.80" fill="#000"/>
<rect x="383.04" y="519.29" width="4.80" height="4.80" fill="#000"/>
<rect x="387.46" y="517.61" width="4.80" height="4.80" fill="#000"/>
<rect x="391.87" y="515.93" width="4.80" height="4.80" fill="#000"/>
<rect x="396.29" y="514.25" width="4.80" height="4.80" fill="#000"/>
<rect x="400.71" y="512.57" width="4.80" height="4.80" fill="#000"/>
<rect x="405.13" y="510.89" width="4.80" height="4.80" fill="#000"/>
<rect x="409.55" y="509.21" width="4.80" height="4.80" fill="#000"/>
<rect x="413.96" y="507.76" width="4.80" height="4.80" fill="#000"/>
<rect x="418.38" y="506.45" width="4.80" height="4.80" fill="#000"/>
<rect x="422.80" y="505.14" width="4.80" height="4.80" fill="#000"/>
<rect x="427.22" y="503.83" width="4.80" height="4.80" fill="#000"/>
<rect x="431.63" y="502.52" width="4.80" height="4.80" fill="#000"/>
<rect x="436.05" y="501.21" width="4.80" height="4.80" fill="#000"/>
<rect x="440.47" y="499.90" width="4.80" height="4.80" fill="#000"/>
<rect x="444.89" y="498.59" width="4.80" height="4.80" fill="#000"/>
<rect x="449.31" y="497.25" width="4.80" height="4.80" fill="#000"/>
<rect x="453.72" y="496.09" width="4.80" height="4.80" fill="#000"/>
<rect x="458.14" y="495.25" width="4.80" height="4.80" fill="#000"/>
<rect x="462.56" y="494.42" width="4.80" height="4.80" fill="#000"/>
<rect x="466.98" y="493.58" width="4.80" height="4.80" fill="#000"/>
<rect x="471.40" y="492.75" width="4.80" height="4.80" fill="#000"/>
<rect x="475.81" y="491.91" width="4.80" height="4.80" fill="#000"/>
<rect x="480.23" y="491.08" width="4.80" height="4.80" fill="#000"/>
<rect x="484.65" y="490.65" width="4.80" height="4.80" fill="#000"/>
<rect x="489.07" y="490.31" width="4.80" height="4.80" fill="#000"/>
<rect x="493.48" y="489.97" width="4.80" height="4.80" fill="#000"/>
<rect x="497.90" y="489.63" width="4.80" height="4.80" fill="#000"/>
<rect x="502.32" y="489.29" width="4.80" height="4.80" fill="#000"/>
<text x="321.75" y="424.0" font-size="13">ERp57</text>
<text x="472.1" y="404.4" font-size="13">nl IgG</text>
<text x="487.15" y="456.2" font-size="13">Ab2</text>
<text x="486.3" y="487.2" font-size="13">Ab1</text>
<text x="377.05" y="591.8" font-size="13">Time (Min)</text>
<text x="269.75" y="503.3" font-size="13" transform="rotate(-90 269.75 503.3)">EGSH (nM)</text>
</svg></body></html>
